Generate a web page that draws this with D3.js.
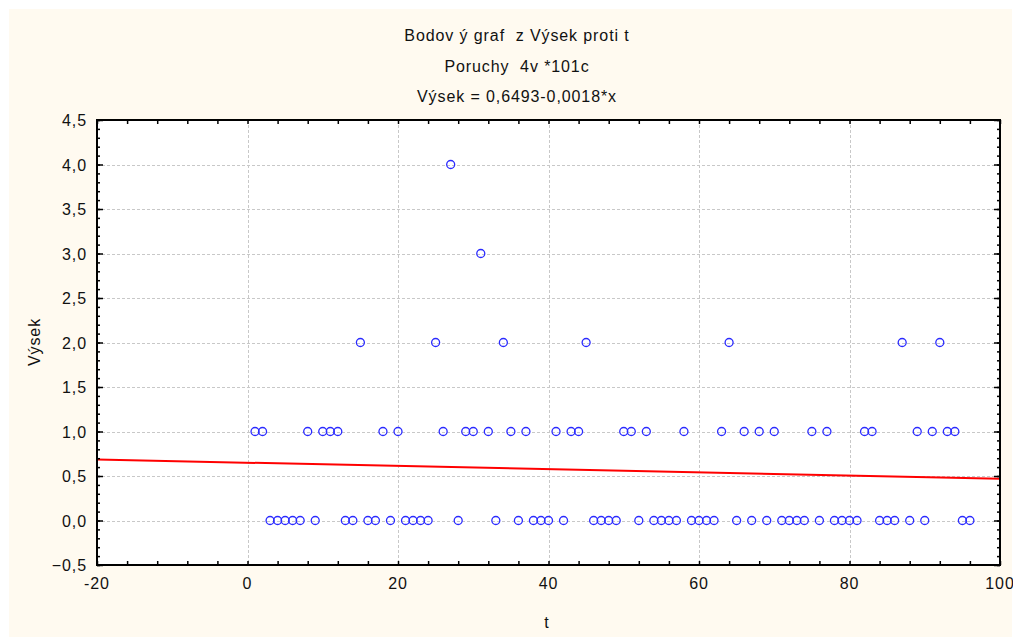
<!DOCTYPE html>
<html lang="cs">
<head>
<meta charset="UTF-8">
<title>Bodový graf z Výsek proti t</title>
<style>
  body { margin: 0; background: #fff; }
  svg { display: block; font-family: "Liberation Sans", Arial, sans-serif; }
  text { white-space: pre; letter-spacing: 0.9px; }
</style>
</head>
<body>
<svg id="chart" width="1013" height="637"></svg>
<script src="https://cdn.jsdelivr.net/npm/d3@7"></script>
<script>
// t hodnoty podle Výsek (čteno z grafu)
var tAt0 = [3,4,5,6,7,9,13,14,16,17,19,21,22,23,24,28,33,36,38,39,40,42,46,47,48,49,52,54,55,56,57,59,60,61,62,65,67,69,71,72,73,74,76,78,79,80,81,84,85,86,88,90,95,96];
var tAt1 = [1,2,8,10,11,12,18,20,26,29,30,32,35,37,41,43,44,50,51,53,58,63,66,68,70,75,77,82,83,89,91,93,94];
var tAt2 = [15,25,34,45,64,87,92];
var tAt3 = [31];
var tAt4 = [27];

var xTicks = [-20, 0, 20, 40, 60, 80, 100];
var yTicks = [-0.5, 0, 0.5, 1, 1.5, 2, 2.5, 3, 3.5, 4, 4.5];
var fitA = 0.6493, fitB = -0.0018;
var titles = ["Bodov ý graf  z Výsek proti t", "Poruchy  4v *101c", "Výsek = 0,6493-0,0018*x"];

var points = [];
[tAt0, tAt1, tAt2, tAt3, tAt4].forEach(function(arr, v) {
  arr.forEach(function(t) { points.push({ t: t, y: v }); });
});

var svg = d3.select('#chart');
var L = 97, R = 1000, T = 120, B = 565;

svg.append('rect').attr('x', 9).attr('y', 9).attr('width', 1003).attr('height', 628).attr('fill', '#fffaf0');
svg.append('rect').attr('x', L).attr('y', T).attr('width', R - L).attr('height', B - T).attr('fill', '#fff');

var x = d3.scaleLinear().domain([-20, 100]).range([L, R]);
var y = d3.scaleLinear().domain([-0.5, 4.5]).range([B, T]);
var fmt = function(d) { return d3.format('.1f')(d).replace('.', ','); };

// mřížka
var grid = svg.append('g').attr('stroke', '#c8c8c8').attr('stroke-dasharray', '3,2').attr('stroke-width', 1);
grid.selectAll('.gx').data(xTicks.slice(1, -1)).enter().append('line')
  .attr('x1', function(d) { return Math.round(x(d)) + 0.5; }).attr('x2', function(d) { return Math.round(x(d)) + 0.5; })
  .attr('y1', T).attr('y2', B);
grid.selectAll('.gy').data(yTicks.slice(1, -1)).enter().append('line')
  .attr('y1', function(d) { return Math.round(y(d)) + 0.5; }).attr('y2', function(d) { return Math.round(y(d)) + 0.5; })
  .attr('x1', L).attr('x2', R);

// regresní přímka
svg.append('line')
  .attr('x1', x(-20)).attr('y1', y(fitA + fitB * -20))
  .attr('x2', x(100)).attr('y2', y(fitA + fitB * 100))
  .attr('stroke', '#ff0000').attr('stroke-width', 2);

// body
svg.append('g').selectAll('circle').data(points).enter().append('circle')
  .attr('cx', function(d) { return x(d.t); })
  .attr('cy', function(d) { return y(d.y); })
  .attr('r', 4)
  .attr('fill', 'none')
  .attr('stroke', '#2a2aff')
  .attr('stroke-width', 1.3);

// osy s vnitřními značkami
var minorX = d3.range(-20, 100.01, 4);
var minorY = d3.range(-5, 46).map(function(i) { return i / 10; });

function ticks(g, axis, size) {
  g.call(axis.tickSize(size).tickFormat('')).call(function(s) { s.select('.domain').remove(); });
  g.selectAll('line').attr('stroke', '#000').attr('stroke-width', 1.5);
}
svg.append('g').attr('transform', 'translate(0,' + B + ')').call(function(g) { ticks(g, d3.axisTop(x).tickValues(minorX), 4); });
svg.append('g').attr('transform', 'translate(0,' + T + ')').call(function(g) { ticks(g, d3.axisBottom(x).tickValues(minorX), 4); });
svg.append('g').attr('transform', 'translate(' + L + ',0)').call(function(g) { ticks(g, d3.axisRight(y).tickValues(minorY), 3); });
svg.append('g').attr('transform', 'translate(' + L + ',0)').call(function(g) { ticks(g, d3.axisRight(y).tickValues(yTicks), 6); });
svg.append('g').attr('transform', 'translate(' + R + ',0)').call(function(g) { ticks(g, d3.axisLeft(y).tickValues(minorY), 3); });
svg.append('g').attr('transform', 'translate(' + R + ',0)').call(function(g) { ticks(g, d3.axisLeft(y).tickValues(yTicks), 6); });

svg.append('rect').attr('x', L).attr('y', T).attr('width', R - L).attr('height', B - T)
  .attr('fill', 'none').attr('stroke', '#000').attr('stroke-width', 2);

// popisky os
svg.append('g').selectAll('text').data(xTicks).enter().append('text')
  .attr('x', function(d) { return x(d); }).attr('y', 589)
  .attr('text-anchor', 'middle').attr('font-size', 16).attr('fill', '#111')
  .text(function(d) { return d; });
svg.append('g').selectAll('text').data(yTicks).enter().append('text')
  .attr('x', 87).attr('y', function(d) { return y(d) + 6; })
  .attr('text-anchor', 'end').attr('font-size', 16).attr('fill', '#111')
  .text(fmt);

svg.append('text').attr('x', 547).attr('y', 628).attr('text-anchor', 'middle')
  .attr('font-size', 16).attr('fill', '#111').text('t');
svg.append('text').attr('transform', 'translate(40,342) rotate(-90)').attr('text-anchor', 'middle')
  .attr('font-size', 16).attr('fill', '#111').text('Výsek');

svg.append('g').selectAll('text').data(titles).enter().append('text')
  .attr('x', 517).attr('y', function(d, i) { return 41 + i * 30.5; })
  .attr('text-anchor', 'middle').attr('font-size', 16).attr('fill', '#111')
  .text(function(d) { return d; });
</script>
</body>
</html>
